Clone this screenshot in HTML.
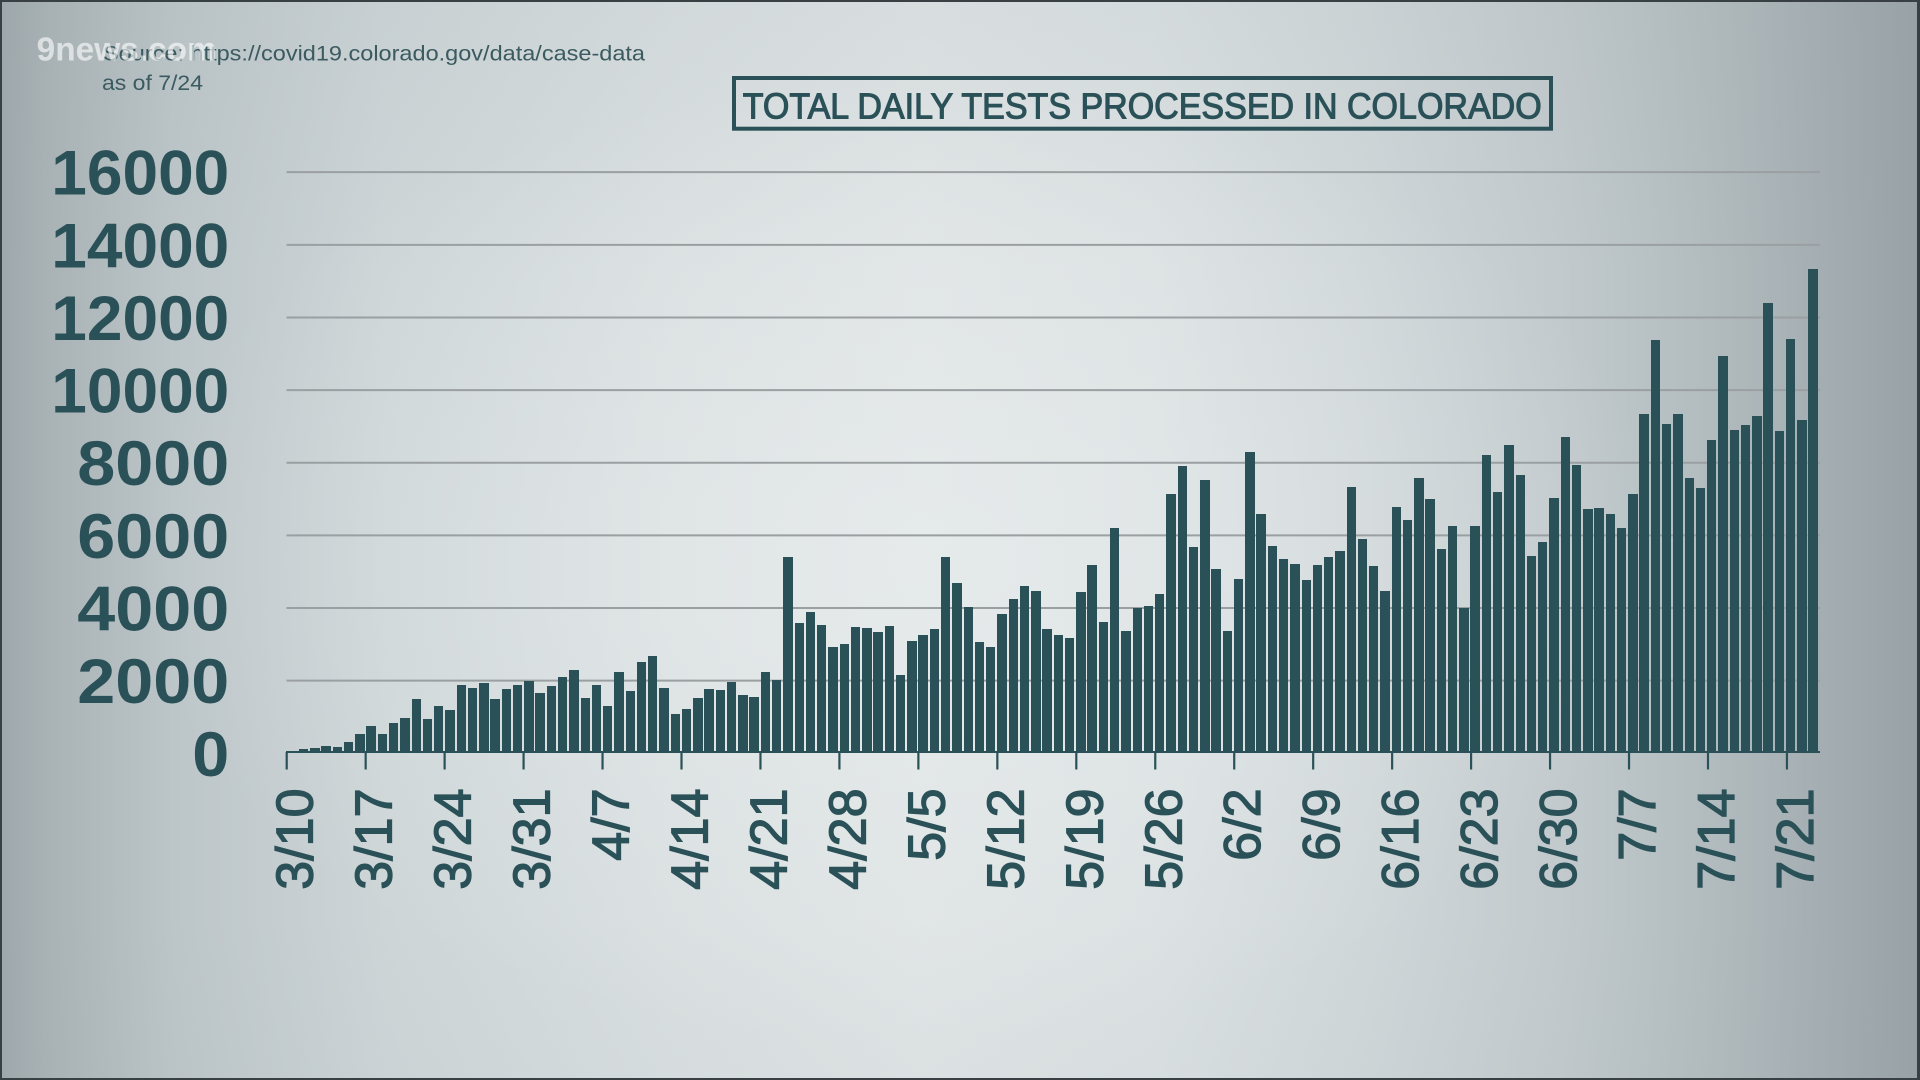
<!DOCTYPE html>
<html><head><meta charset="utf-8"><style>
html,body{margin:0;padding:0;}
body{width:1920px;height:1080px;overflow:hidden;position:relative;
background:
radial-gradient(ellipse 40% 45% at 47% 52%, rgba(235,239,240,0.55) 0%, rgba(235,239,240,0) 100%),
linear-gradient(to bottom, rgba(150,162,166,0.10) 0%, rgba(150,162,166,0) 25%, rgba(150,162,166,0) 85%, rgba(150,162,166,0.05) 100%),
linear-gradient(to right, #9ea8ac 0%, #a9b3b6 2.5%, #bcc5c8 9%, #cdd5d7 20%, #d9dfe0 35%, #dfe4e5 48%, #dbe1e2 60%, #d0d7d9 71%, #c2cacd 81%, #b2bcbf 89%, #a4aeb2 95%, #98a2a6 100%);
font-family:"Liberation Sans",sans-serif;}
#frame{position:absolute;left:0;top:0;width:1920px;height:1080px;box-sizing:border-box;border:2px solid #384044;border-right-width:3px;z-index:5;}
svg{position:absolute;left:0;top:0;}
#bars{position:absolute;left:287.6px;top:253px;height:500.3px;width:1540px;display:flex;align-items:flex-end;gap:1.88px;z-index:2;}
#bars div{width:9.4px;flex:0 0 9.4px;background:#2b5158;height:calc(var(--v)*0.03632px);}
#axis{position:absolute;left:286px;top:750.6px;width:1534px;height:2.8px;background:#2b5158;z-index:3;}
</style></head><body>
<svg width="1920" height="1080" viewBox="0 0 1920 1080" style="z-index:1">
<g stroke="#9a9fa2" stroke-width="2">
<line x1="286.5" y1="172.18" x2="1820" y2="172.18"/>
<line x1="286.5" y1="244.82" x2="1820" y2="244.82"/>
<line x1="286.5" y1="317.46" x2="1820" y2="317.46"/>
<line x1="286.5" y1="390.1" x2="1820" y2="390.1"/>
<line x1="286.5" y1="462.74" x2="1820" y2="462.74"/>
<line x1="286.5" y1="535.38" x2="1820" y2="535.38"/>
<line x1="286.5" y1="608.02" x2="1820" y2="608.02"/>
<line x1="286.5" y1="680.66" x2="1820" y2="680.66"/>
</g>
<g stroke="#2b5158" stroke-width="2.2">
<line x1="286.7" y1="752" x2="286.7" y2="769.5"/>
<line x1="365.66" y1="752" x2="365.66" y2="769.5"/>
<line x1="444.62" y1="752" x2="444.62" y2="769.5"/>
<line x1="523.58" y1="752" x2="523.58" y2="769.5"/>
<line x1="602.54" y1="752" x2="602.54" y2="769.5"/>
<line x1="681.5" y1="752" x2="681.5" y2="769.5"/>
<line x1="760.46" y1="752" x2="760.46" y2="769.5"/>
<line x1="839.42" y1="752" x2="839.42" y2="769.5"/>
<line x1="918.38" y1="752" x2="918.38" y2="769.5"/>
<line x1="997.34" y1="752" x2="997.34" y2="769.5"/>
<line x1="1076.3" y1="752" x2="1076.3" y2="769.5"/>
<line x1="1155.26" y1="752" x2="1155.26" y2="769.5"/>
<line x1="1234.22" y1="752" x2="1234.22" y2="769.5"/>
<line x1="1313.18" y1="752" x2="1313.18" y2="769.5"/>
<line x1="1392.14" y1="752" x2="1392.14" y2="769.5"/>
<line x1="1471.1" y1="752" x2="1471.1" y2="769.5"/>
<line x1="1550.06" y1="752" x2="1550.06" y2="769.5"/>
<line x1="1629.02" y1="752" x2="1629.02" y2="769.5"/>
<line x1="1707.98" y1="752" x2="1707.98" y2="769.5"/>
<line x1="1786.94" y1="752" x2="1786.94" y2="769.5"/>
</g>
<g font-family="Liberation Sans, sans-serif" font-weight="bold" font-size="63" fill="#2b5158" text-anchor="end">
<text x="229.3" y="194.7" textLength="178" lengthAdjust="spacingAndGlyphs">16000</text>
<text x="229.3" y="267.3" textLength="178" lengthAdjust="spacingAndGlyphs">14000</text>
<text x="229.3" y="340" textLength="178" lengthAdjust="spacingAndGlyphs">12000</text>
<text x="229.3" y="412.6" textLength="178" lengthAdjust="spacingAndGlyphs">10000</text>
<text x="229.3" y="485.2" textLength="152" lengthAdjust="spacingAndGlyphs">8000</text>
<text x="229.3" y="557.9" textLength="152" lengthAdjust="spacingAndGlyphs">6000</text>
<text x="229.3" y="630.5" textLength="152" lengthAdjust="spacingAndGlyphs">4000</text>
<text x="229.3" y="703.2" textLength="152" lengthAdjust="spacingAndGlyphs">2000</text>
<text x="229.3" y="775.8" textLength="37" lengthAdjust="spacingAndGlyphs">0</text>
</g>
<g font-family="Liberation Sans, sans-serif" font-size="52" fill="#2b5158" text-anchor="end" stroke="#2b5158" stroke-width="1.3">
<text transform="translate(312.7,788.5) rotate(-90)">3/10</text>
<text transform="translate(391.66,788.5) rotate(-90)">3/17</text>
<text transform="translate(470.62,788.5) rotate(-90)">3/24</text>
<text transform="translate(549.58,788.5) rotate(-90)">3/31</text>
<text transform="translate(628.54,788.5) rotate(-90)">4/7</text>
<text transform="translate(707.5,788.5) rotate(-90)">4/14</text>
<text transform="translate(786.46,788.5) rotate(-90)">4/21</text>
<text transform="translate(865.42,788.5) rotate(-90)">4/28</text>
<text transform="translate(944.38,788.5) rotate(-90)">5/5</text>
<text transform="translate(1023.34,788.5) rotate(-90)">5/12</text>
<text transform="translate(1102.3,788.5) rotate(-90)">5/19</text>
<text transform="translate(1181.26,788.5) rotate(-90)">5/26</text>
<text transform="translate(1260.22,788.5) rotate(-90)">6/2</text>
<text transform="translate(1339.18,788.5) rotate(-90)">6/9</text>
<text transform="translate(1418.14,788.5) rotate(-90)">6/16</text>
<text transform="translate(1497.1,788.5) rotate(-90)">6/23</text>
<text transform="translate(1576.06,788.5) rotate(-90)">6/30</text>
<text transform="translate(1655.02,788.5) rotate(-90)">7/7</text>
<text transform="translate(1733.98,788.5) rotate(-90)">7/14</text>
<text transform="translate(1812.94,788.5) rotate(-90)">7/21</text>
</g>
<rect x="734" y="78" width="817" height="50.7" fill="none" stroke="#2b5158" stroke-width="4"/>
<text x="742.7" y="118.3" font-family="Liberation Sans, sans-serif" font-size="36" fill="#2b5158" stroke="#2b5158" stroke-width="1.1" textLength="799" lengthAdjust="spacingAndGlyphs">TOTAL DAILY TESTS PROCESSED IN COLORADO</text>
<text x="103" y="60.7" font-family="Liberation Sans, sans-serif" font-size="21" fill="#3b5b61" textLength="542" lengthAdjust="spacingAndGlyphs">Source: https://covid19.colorado.gov/data/case-data</text>
<text x="102" y="90" font-family="Liberation Sans, sans-serif" font-size="21" fill="#3b5b61" textLength="101" lengthAdjust="spacingAndGlyphs">as of 7/24</text>
<text x="36.7" y="60.7" font-family="Liberation Sans, sans-serif" font-weight="bold" font-size="33" fill="rgba(255,255,255,0.6)" textLength="180" lengthAdjust="spacingAndGlyphs">9news.com</text>
</svg>
<div id="bars">
<div style="--v:72"></div><div style="--v:127"></div><div style="--v:155"></div><div style="--v:210"></div><div style="--v:174"></div><div style="--v:320"></div><div style="--v:531"></div><div style="--v:752"></div><div style="--v:531"></div><div style="--v:843"></div>
<div style="--v:981"></div><div style="--v:1495"></div><div style="--v:953"></div><div style="--v:1302"></div><div style="--v:1192"></div><div style="--v:1881"></div><div style="--v:1798"></div><div style="--v:1945"></div><div style="--v:1495"></div><div style="--v:1770"></div>
<div style="--v:1881"></div><div style="--v:1991"></div><div style="--v:1670"></div><div style="--v:1862"></div><div style="--v:2101"></div><div style="--v:2294"></div><div style="--v:1532"></div><div style="--v:1881"></div><div style="--v:1302"></div><div style="--v:2239"></div>
<div style="--v:1716"></div><div style="--v:2514"></div><div style="--v:2679"></div><div style="--v:1798"></div><div style="--v:1082"></div><div style="--v:1220"></div><div style="--v:1523"></div><div style="--v:1770"></div><div style="--v:1743"></div><div style="--v:1963"></div>
<div style="--v:1605"></div><div style="--v:1550"></div><div style="--v:2239"></div><div style="--v:2018"></div><div style="--v:5405"></div><div style="--v:3588"></div><div style="--v:3890"></div><div style="--v:3533"></div><div style="--v:2927"></div><div style="--v:3009"></div>
<div style="--v:3477"></div><div style="--v:3450"></div><div style="--v:3340"></div><div style="--v:3505"></div><div style="--v:2156"></div><div style="--v:3092"></div><div style="--v:3257"></div><div style="--v:3422"></div><div style="--v:5405"></div><div style="--v:4689"></div>
<div style="--v:4028"></div><div style="--v:3064"></div><div style="--v:2927"></div><div style="--v:3835"></div><div style="--v:4248"></div><div style="--v:4606"></div><div style="--v:4469"></div><div style="--v:3422"></div><div style="--v:3257"></div><div style="--v:3175"></div>
<div style="--v:4441"></div><div style="--v:5185"></div><div style="--v:3615"></div><div style="--v:6203"></div><div style="--v:3367"></div><div style="--v:4001"></div><div style="--v:4056"></div><div style="--v:4386"></div><div style="--v:7139"></div><div style="--v:7910"></div>
<div style="--v:5680"></div><div style="--v:7525"></div><div style="--v:5074"></div><div style="--v:3367"></div><div style="--v:4799"></div><div style="--v:8296"></div><div style="--v:6589"></div><div style="--v:5708"></div><div style="--v:5350"></div><div style="--v:5212"></div>
<div style="--v:4772"></div><div style="--v:5185"></div><div style="--v:5405"></div><div style="--v:5570"></div><div style="--v:7332"></div><div style="--v:5900"></div><div style="--v:5157"></div><div style="--v:4469"></div><div style="--v:6781"></div><div style="--v:6423"></div>
<div style="--v:7580"></div><div style="--v:7002"></div><div style="--v:5625"></div><div style="--v:6258"></div><div style="--v:3993"></div><div style="--v:6258"></div><div style="--v:8213"></div><div style="--v:7194"></div><div style="--v:8488"></div><div style="--v:7662"></div>
<div style="--v:5432"></div><div style="--v:5818"></div><div style="--v:7029"></div><div style="--v:8709"></div><div style="--v:7938"></div><div style="--v:6726"></div><div style="--v:6754"></div><div style="--v:6589"></div><div style="--v:6203"></div><div style="--v:7139"></div>
<div style="--v:9342"></div><div style="--v:11379"></div><div style="--v:9067"></div><div style="--v:9342"></div><div style="--v:7580"></div><div style="--v:7305"></div><div style="--v:8626"></div><div style="--v:10939"></div><div style="--v:8902"></div><div style="--v:9039"></div>
<div style="--v:9287"></div><div style="--v:12398"></div><div style="--v:8874"></div><div style="--v:11407"></div><div style="--v:9177"></div><div style="--v:13334"></div>
</div>
<div id="axis"></div>
<div id="frame"></div>
</body></html>
